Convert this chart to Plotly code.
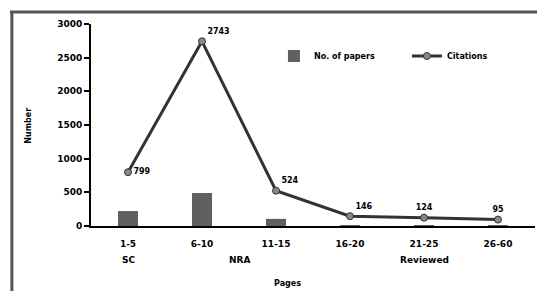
import plotly.graph_objects as go

pages = ["1-5", "6-10", "11-15", "16-20", "21-25", "26-60"]
groups = ["SC", "NRA", "Reviewed"]
group_pos = [0, 1.5, 4]
papers = [222, 490, 106, 14, 3, 2]
citations = [799, 2743, 524, 146, 124, 95]
label_pos = ["middle right", "top right", "top right", "top right", "top center", "top center"]
y_ticks = [0, 500, 1000, 1500, 2000, 2500, 3000]

# page body has an 8px margin; work in screen pixels and shift
OFF = 8
W, H = 545 - OFF, 291 - OFF
L, R, T = 91 - OFF, 5, 24 - OFF
B = H - (226 - OFF)
pw, ph = W - L - R, H - T - B

def px_x(x):
    return (x - OFF - L) / pw

def px_y(y):
    return (H - B - (y - OFF)) / ph

font = dict(family="DejaVu Sans", size=9, color="black", weight="bold")
sfont = dict(family="DejaVu Sans", size=8, color="black", weight="bold")

fig = go.Figure()
fig.add_trace(go.Bar(
    x=pages, y=papers, name="No. of papers",
    marker=dict(color="#606060", line=dict(width=0)),
    width=0.27,
))
fig.add_trace(go.Scatter(
    x=pages, y=citations, name="Citations",
    mode="lines+markers+text",
    line=dict(color="#333333", width=3),
    marker=dict(size=7, color="#888888", line=dict(color="#333333", width=1)),
    text=[str(v) for v in citations],
    textposition=label_pos,
    textfont=sfont,
    cliponaxis=False,
))

annotations = []
for g, p in zip(groups, group_pos):
    annotations.append(dict(x=p, xref="x", y=px_y(260), yref="paper", text=g,
                            showarrow=False, font=font, xanchor="center", yanchor="middle"))
annotations.append(dict(x=px_x(290), xref="paper", y=px_y(283), yref="paper", text="Pages",
                        showarrow=False, font=sfont, xanchor="center", yanchor="middle"))
annotations.append(dict(x=px_x(27), xref="paper", y=px_y(126), yref="paper", text="Number",
                        showarrow=False, textangle=-90, font=sfont,
                        xanchor="center", yanchor="middle"))

shapes = [
    dict(type="line", xref="paper", yref="paper", x0=px_x(9), x1=px_x(560),
         y0=px_y(12), y1=px_y(12), line=dict(color="#555555", width=3)),
    dict(type="line", xref="paper", yref="paper", x0=px_x(11), x1=px_x(11),
         y0=px_y(11), y1=px_y(300), line=dict(color="#555555", width=3)),
]

fig.update_layout(
    width=W, height=H,
    margin=dict(l=L, r=R, t=T, b=B),
    paper_bgcolor="white", plot_bgcolor="white",
    font=font,
    showlegend=True,
    legend=dict(orientation="h", x=px_x(276), y=px_y(56), xanchor="left", yanchor="middle",
                font=sfont, bgcolor="rgba(0,0,0,0)", itemwidth=30, entrywidth=88),
    xaxis=dict(type="category", categoryorder="array", categoryarray=pages,
               range=[-0.5, 5.5], showgrid=False, showline=True, linecolor="black",
               linewidth=2, ticks="", tickfont=font, zeroline=False,
               ticklabelstandoff=8),
    yaxis=dict(range=[0, 3000], tickvals=y_ticks, showgrid=False, showline=True,
               linecolor="black", linewidth=2, ticks="outside", ticklen=5,
               tickcolor="black", tickwidth=2, tickfont=font, zeroline=False),
    annotations=annotations,
    shapes=shapes,
    bargap=0.7,
)

fig.write_html("out.html")
